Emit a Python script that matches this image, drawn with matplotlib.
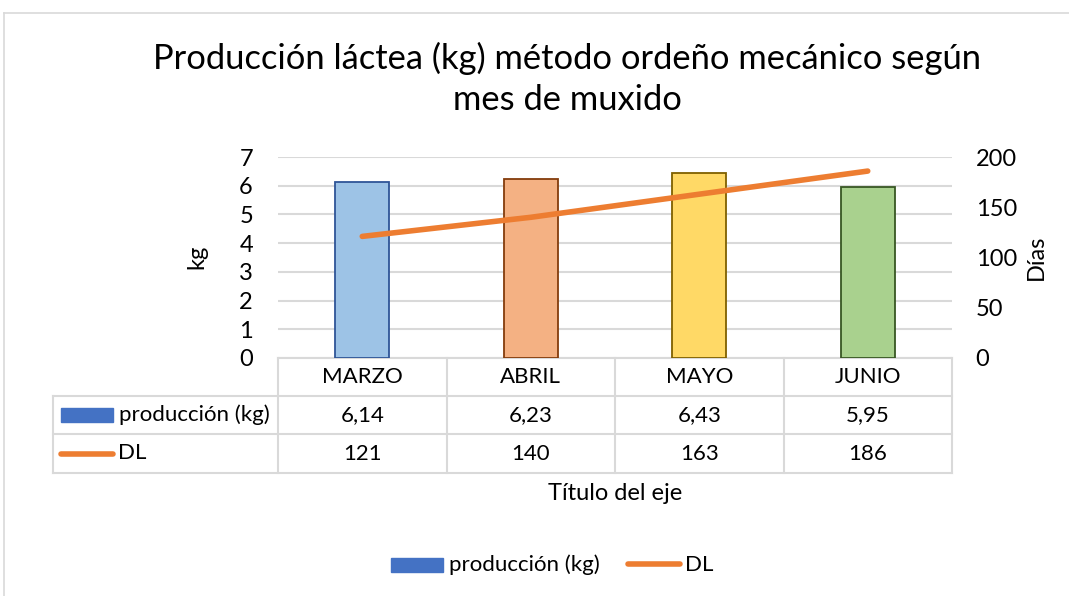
import matplotlib
matplotlib.use("Agg")
import matplotlib.pyplot as plt
from matplotlib.lines import Line2D
from matplotlib.patches import Rectangle
from matplotlib.transforms import blended_transform_factory

plt.rcParams["font.family"] = ["Lato", "DejaVu Sans"]

# data
meses = ["MARZO", "ABRIL", "MAYO", "JUNIO"]
produccion = [6.14, 6.23, 6.43, 5.95]
dl = [121, 140, 163, 186]
kg_ticks = [0, 1, 2, 3, 4, 5, 6, 7]
dias_ticks = [0, 50, 100, 150, 200]

fill_colors = ["#9DC3E6", "#F4B183", "#FFD966", "#A9D18E"]
edge_colors = ["#2F5597", "#843C0C", "#7F6000", "#385723"]
orange = "#ED7D31"
blue = "#4472C4"
grid = "#D9D9D9"
txt = "#000000"

W, H = 1069, 596
fig = plt.figure(figsize=(W / 100, H / 100), dpi=100)


def fx(px):
    return px / W


def fy(py):
    return 1 - py / H


# chart frame
fig.add_artist(Line2D([fx(4), 1], [fy(13), fy(13)], color="#D9D9D9", lw=1.2))
fig.add_artist(Line2D([fx(4), fx(4)], [fy(13), 0], color="#D9D9D9", lw=1.2))

fig.text(fx(567), fy(79), "Producción láctea (kg) método ordeño mecánico según\nmes de muxido",
         ha="center", va="center", fontsize=24.8, linespacing=1.35, color=txt)

left, right, top, bot = 278, 952, 157, 358
ax = fig.add_axes([fx(left), fy(bot), fx(right - left), (bot - top) / H])
x = list(range(len(meses)))
ax.bar(x, produccion, width=0.32, color=fill_colors, edgecolor=edge_colors, linewidth=1.3, zorder=3)
ax.set_xlim(-0.5, len(meses) - 0.5)
ax.set_ylim(0, 7)
ax.set_yticks(kg_ticks)
ax.set_xticks([])
ax.grid(axis="y", color=grid, lw=1.5, zorder=0)
for s in ["top", "right", "left"]:
    ax.spines[s].set_visible(False)
ax.spines["bottom"].set_color(grid)
ax.spines["bottom"].set_linewidth(1.5)
ax.tick_params(axis="y", length=0, labelsize=17, pad=18, colors=txt)

ax2 = ax.twinx()
ax2.plot(x, dl, color=orange, lw=4, solid_capstyle="round", zorder=4)
ax2.set_ylim(0, 200)
ax2.set_yticks(dias_ticks)
for s in ax2.spines.values():
    s.set_visible(False)
ax2.tick_params(axis="y", length=0, labelsize=17, pad=17, colors=txt)

fig.text(fx(197), fy(257), "kg", rotation=90, ha="center", va="center", fontsize=17)
fig.text(fx(1036), fy(257), "Días", rotation=90, ha="center", va="center", fontsize=17)

# data table below the axis
tr = blended_transform_factory(ax.transData, fig.transFigure)
rows = [358, 396, 434, 473]
xs_edges = [i - 0.5 for i in range(len(meses) + 1)]
for i, ry in enumerate(rows):
    if i == 0:
        continue
    fig.add_artist(Line2D([fx(53), fx(right)], [fy(ry), fy(ry)], color=grid, lw=1.5))
for xe in xs_edges:
    ax.plot([xe, xe], [fy(rows[0]), fy(rows[-1])], transform=tr, color=grid, lw=1.5, clip_on=False)
fig.add_artist(Line2D([fx(53), fx(53)], [fy(rows[1]), fy(rows[-1])], color=grid, lw=1.5))

for i, m in enumerate(meses):
    ax.text(i, fy((rows[0] + rows[1]) / 2), m, transform=tr, ha="center", va="center", fontsize=16)
    ax.text(i, fy((rows[1] + rows[2]) / 2), f"{produccion[i]:.2f}".replace(".", ","),
            transform=tr, ha="center", va="center", fontsize=16)
    ax.text(i, fy((rows[2] + rows[3]) / 2), str(dl[i]), transform=tr, ha="center", va="center", fontsize=16)

fig.add_artist(Rectangle((fx(61), fy(422)), fx(52), 14 / H, color=blue))
fig.text(fx(119), fy(415), "producción (kg)", ha="left", va="center", fontsize=16)
fig.add_artist(Line2D([fx(61), fx(113)], [fy(454), fy(454)], color=orange, lw=4, solid_capstyle="round"))
fig.text(fx(118), fy(453), "DL", ha="left", va="center", fontsize=16)

fig.text(fx(615), fy(494), "Título del eje", ha="center", va="center", fontsize=17)

# legend
fig.add_artist(Rectangle((fx(391), fy(572)), fx(52), 14 / H, color=blue))
fig.text(fx(449), fy(565), "producción (kg)", ha="left", va="center", fontsize=16)
fig.add_artist(Line2D([fx(628), fx(680)], [fy(564), fy(564)], color=orange, lw=4, solid_capstyle="round"))
fig.text(fx(685), fy(565), "DL", ha="left", va="center", fontsize=16)

fig.savefig("out.png", dpi=100)
